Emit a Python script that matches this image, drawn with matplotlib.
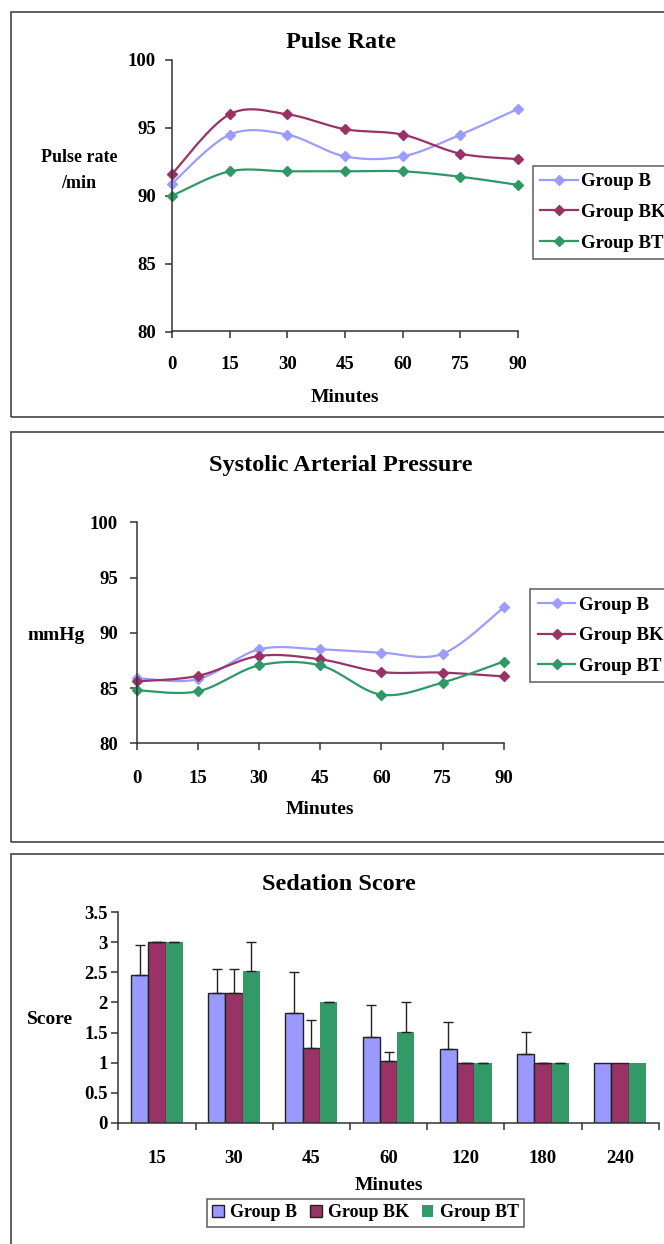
import numpy as np
import matplotlib
matplotlib.use('Agg')
import matplotlib.pyplot as plt
from matplotlib.patches import Rectangle, Patch
from matplotlib.lines import Line2D

# ---------------- data ----------------
minutes = [0, 15, 30, 45, 60, 75, 90]
groups = ['Group B', 'Group BK', 'Group BT']

pulse_b = [90.9, 94.5, 94.5, 92.9, 92.9, 94.5, 96.4]
pulse_bk = [91.6, 96.0, 96.0, 94.9, 94.5, 93.1, 92.7]
pulse_bt = [90.0, 91.8, 91.8, 91.8, 91.8, 91.4, 90.8]

sap_b = [85.9, 85.8, 88.5, 88.5, 88.2, 88.1, 92.3]
sap_bk = [85.6, 86.1, 87.9, 87.6, 86.45, 86.4, 86.05]
sap_bt = [84.8, 84.7, 87.05, 87.05, 84.4, 85.5, 87.4]

sed_labels = ['15', '30', '45', '60', '120', '180', '240']
sed_b = [2.46, 2.15, 1.83, 1.43, 1.23, 1.15, 1.0]
sed_bk = [3.0, 2.15, 1.25, 1.03, 1.0, 1.0, 1.0]
sed_bt = [3.0, 2.53, 2.0, 1.51, 1.0, 1.0, 1.0]
sed_b_err = [0.50, 0.41, 0.67, 0.52, 0.44, 0.36, np.nan]
sed_bk_err = [0.0, 0.41, 0.46, 0.15, 0.0, 0.0, np.nan]
sed_bt_err = [0.0, 0.48, 0.0, 0.50, 0.0, 0.0, np.nan]

line_colors = ['#9C9CFF', '#993366', '#2E9966']
bar_colors = ['#9999FF', '#993366', '#339966']
bar_edges = ['#222222', '#222222', 'none']

# ---------------- style ----------------
plt.rcParams['font.family'] = ['Liberation Serif', 'DejaVu Serif']
plt.rcParams['font.weight'] = 'bold'
TICK_FS = 13.5
TITLE_FS = 17.5
LAB_FS = 14
LEG_FS = 13.5
SPINE_C = '#333333'

W, H = 664, 1244
fig = plt.figure(figsize=(W / 100, H / 100), dpi=100)
fig.patch.set_facecolor('white')


def fx(x):
    return x / W


def fy(y):
    return 1 - y / H


def add_ax(l, t, r, b):
    return fig.add_axes([fx(l), fy(b), (r - l) / W, (b - t) / H])


def smooth(x, y, n=24):
    P = np.column_stack([np.asarray(x, float), np.asarray(y, float)])
    P = np.vstack([P[0], P, P[-1]])
    out = []
    t = np.linspace(0, 1, n, endpoint=False)[:, None]
    for i in range(1, len(P) - 2):
        p0, p1, p2, p3 = P[i - 1], P[i], P[i + 1], P[i + 2]
        seg = 0.5 * ((2 * p1) + (-p0 + p2) * t
                     + (2 * p0 - 5 * p1 + 4 * p2 - p3) * t ** 2
                     + (-p0 + 3 * p1 - 3 * p2 + p3) * t ** 3)
        out.append(seg)
    out.append(P[-2][None])
    S = np.vstack(out)
    return S[:, 0], S[:, 1]


def style_axes(ax):
    for s in ['top', 'right']:
        ax.spines[s].set_visible(False)
    for s in ['left', 'bottom']:
        ax.spines[s].set_color(SPINE_C)
        ax.spines[s].set_linewidth(1.1)
    ax.set_facecolor('none')


# panel frames
for (t, b) in [(12, 417), (432.5, 842), (854, 1260)]:
    fig.patches.append(Rectangle((fx(10.7), fy(b)), (700 - 10.7) / W, (b - t) / H,
                                 transform=fig.transFigure, fill=False,
                                 edgecolor='#444444', linewidth=1.2))


def line_panel(ax, series, leg_left, leg_top, ytick_pad, xtick_pad):
    style_axes(ax)
    handles = []
    for vals, c, g in zip(series, line_colors, groups):
        sx, sy = smooth(minutes, vals)
        ax.plot(sx, sy, color=c, lw=1.6, clip_on=False, solid_capstyle='round')
        ax.plot(minutes, vals, linestyle='none', marker='D', ms=5.5, color=c,
                clip_on=False)
        handles.append(Line2D([], [], color=c, lw=1.6, marker='D', ms=5.5, label=g))
    ax.set_xlim(0, 90)
    ax.set_ylim(80, 100)
    ax.set_xticks(minutes)
    ax.set_xticklabels([str(m) for m in minutes])
    ax.set_yticks([80, 85, 90, 95, 100])
    ax.tick_params(axis='both', direction='out', length=5, width=1.1,
                   color=SPINE_C, labelsize=TICK_FS)
    ax.tick_params(axis='y', pad=ytick_pad)
    ax.tick_params(axis='x', pad=xtick_pad)
    for lab in ax.get_xticklabels() + ax.get_yticklabels():
        lab.set_fontweight('bold')
    leg = ax.legend(handles=handles, loc='upper left',
                    bbox_to_anchor=(fx(leg_left), fy(leg_top)),
                    bbox_transform=fig.transFigure, borderaxespad=0,
                    fontsize=LEG_FS, frameon=True, fancybox=False,
                    edgecolor='#333333', handlelength=2.0, handletextpad=0.2,
                    labelspacing=0.72, borderpad=0.4)
    leg.get_frame().set_linewidth(1.1)
    for txt in leg.get_texts():
        txt.set_fontweight('bold')
    return ax


# -------- Panel 1: Pulse rate --------
ax1 = add_ax(172, 60, 518, 331.5)
line_panel(ax1, [pulse_b, pulse_bk, pulse_bt], 532.7, 165.7, ytick_pad=6.5, xtick_pad=13)
fig.text(fx(341), fy(43), 'Pulse Rate', ha='center', va='center',
         fontsize=TITLE_FS, fontweight='bold')
fig.text(fx(79), fy(158), 'Pulse rate', ha='center', va='center',
         fontsize=13, fontweight='bold')
fig.text(fx(79), fy(183), '/min', ha='center', va='center',
         fontsize=13, fontweight='bold')
fig.text(fx(345), fy(397), 'Minutes', ha='center', va='center',
         fontsize=LAB_FS, fontweight='bold')

# -------- Panel 2: Systolic arterial pressure --------
ax2 = add_ax(136.7, 522.3, 503.7, 743.3)
line_panel(ax2, [sap_b, sap_bk, sap_bt], 530.3, 589, ytick_pad=8.5, xtick_pad=14)
fig.text(fx(341), fy(465), 'Systolic Arterial Pressure', ha='center', va='center',
         fontsize=TITLE_FS, fontweight='bold')
fig.text(fx(56), fy(636), 'mmHg', ha='center', va='center',
         fontsize=LAB_FS, fontweight='bold')
fig.text(fx(320), fy(810), 'Minutes', ha='center', va='center',
         fontsize=LAB_FS, fontweight='bold')

# -------- Panel 3: Sedation score --------
ax3 = add_ax(118.3, 912.3, 658.7, 1122.7)
style_axes(ax3)
idx = np.arange(len(sed_labels))
w = 0.223
offs = [-w, 0, w]
series = [sed_b, sed_bk, sed_bt]
errs = [sed_b_err, sed_bk_err, sed_bt_err]
leg_handles = []
for vals, e, off, c, ec, g in zip(series, errs, offs, bar_colors, bar_edges, groups):
    ax3.bar(idx + off, vals, width=w, color=c, edgecolor=ec, linewidth=1.0,
            zorder=2)
    e = np.asarray(e, float)
    v = np.asarray(vals, float)
    m = ~np.isnan(e)
    ax3.errorbar((idx + off)[m], v[m], yerr=[np.zeros(m.sum()), e[m]], fmt='none',
                 ecolor='#222222', elinewidth=1.0, capsize=3.5, capthick=1.0,
                 zorder=3)
    leg_handles.append(Patch(facecolor=c, edgecolor=ec, linewidth=1.0, label=g))
ax3.set_xlim(-0.5, len(sed_labels) - 0.5)
ax3.set_ylim(0, 3.5)
ax3.set_yticks(np.arange(0, 3.51, 0.5))
ax3.set_yticklabels(['0', '0.5', '1', '1.5', '2', '2.5', '3', '3.5'])
ax3.set_xticks(idx)
ax3.set_xticklabels(sed_labels)
ax3.set_xticks(np.arange(-0.5, len(sed_labels)), minor=True)
ax3.tick_params(axis='x', which='major', length=0, pad=20, labelsize=TICK_FS)
ax3.tick_params(axis='x', which='minor', direction='out', length=5, width=1.1,
                color=SPINE_C)
ax3.tick_params(axis='y', direction='out', length=5, width=1.1, color=SPINE_C,
                labelsize=TICK_FS, pad=2.5)
for lab in ax3.get_xticklabels() + ax3.get_yticklabels():
    lab.set_fontweight('bold')
fig.text(fx(339), fy(885), 'Sedation Score', ha='center', va='center',
         fontsize=TITLE_FS, fontweight='bold')
fig.text(fx(50), fy(1019), 'Score', ha='center', va='center',
         fontsize=LAB_FS, fontweight='bold')
fig.text(fx(388.5), fy(1185), 'Minutes', ha='center', va='center',
         fontsize=LAB_FS, fontweight='bold')
leg3 = ax3.legend(handles=leg_handles, loc='upper left',
                  bbox_to_anchor=(fx(206.7), fy(1199)),
                  bbox_transform=fig.transFigure, borderaxespad=0, ncol=3,
                  fontsize=13, frameon=True, fancybox=False,
                  edgecolor='#333333', handlelength=0.65, handleheight=0.65,
                  handletextpad=0.35, columnspacing=0.7, borderpad=0.3)
leg3.get_frame().set_linewidth(1.1)
for txt in leg3.get_texts():
    txt.set_fontweight('bold')

fig.savefig('out.png', dpi=100, facecolor='white')
